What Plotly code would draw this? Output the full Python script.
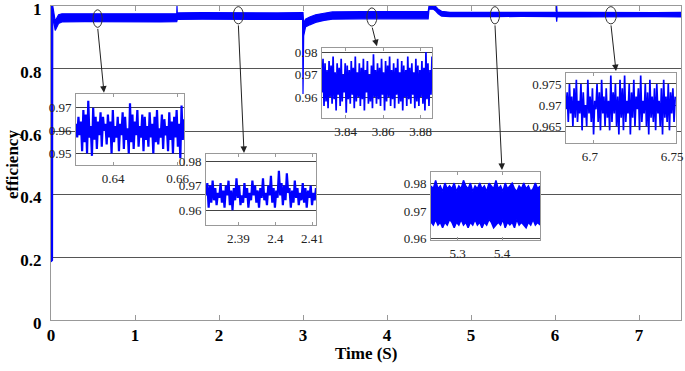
import plotly.graph_objects as go

# ---------------- data ----------------
# main efficiency trace (noisy band drawn as lower / upper envelope)
main_t = [0.000, 0.001, 0.018, 0.021, 0.050, 0.090, 0.130, 0.400, 0.700, 1.000, 1.300, 1.497,
          1.500, 1.503, 1.800, 2.100, 2.400, 2.700, 2.995, 3.000, 3.008, 3.030, 3.080, 3.150,
          3.250, 3.350, 3.700, 4.000, 4.300, 4.490, 4.500, 4.550, 4.580, 4.610, 4.650, 4.750,
          5.000, 5.300, 5.600, 5.950, 6.015, 6.020, 6.025, 6.300, 6.600, 6.900, 7.200, 7.500]
main_lo = [0.185, 0.185, 0.190, 0.970, 0.922, 0.944, 0.949, 0.950, 0.949, 0.950, 0.949, 0.950,
           0.952, 0.957, 0.958, 0.957, 0.958, 0.957, 0.957, 0.720, 0.905, 0.933, 0.940, 0.948,
           0.954, 0.958, 0.959, 0.958, 0.959, 0.959, 0.990, 0.990, 0.984, 0.975, 0.968, 0.966,
           0.967, 0.966, 0.967, 0.966, 0.966, 0.950, 0.965, 0.965, 0.966, 0.965, 0.966, 0.965]
main_hi = [0.200, 1.000, 1.000, 1.000, 0.952, 0.972, 0.975, 0.975, 0.974, 0.975, 0.974, 0.975,
           1.000, 0.978, 0.979, 0.978, 0.979, 0.978, 0.979, 0.979, 0.945, 0.958, 0.965, 0.972,
           0.977, 0.981, 0.982, 0.981, 0.982, 0.982, 1.000, 1.000, 0.998, 0.990, 0.983, 0.980,
           0.980, 0.980, 0.979, 0.980, 0.980, 1.000, 0.980, 0.980, 0.979, 0.980, 0.979, 0.980]

main_xticks = [0, 1, 2, 3, 4, 5, 6, 7]
main_yticks = [0, 0.2, 0.4, 0.6, 0.8, 1]
main_yticktext = ["0", "0.2", "0.4", "0.6", "0.8", "1"]

# zoom 1 : t = 0.6285 ... 0.662
z1_t = [0.6285, 0.6620]
z1_v = [0.963, 0.957, 0.966, 0.958, 0.964, 0.951, 0.969, 0.955, 0.967, 0.950, 0.973, 0.957, 0.962,
        0.949, 0.970, 0.956, 0.966, 0.952, 0.964, 0.958, 0.968, 0.953, 0.966, 0.960, 0.963, 0.954,
        0.967, 0.957, 0.964, 0.950, 0.969, 0.955, 0.962, 0.957, 0.966, 0.951, 0.963, 0.958, 0.968,
        0.952, 0.966, 0.956, 0.961, 0.950, 0.972, 0.955, 0.967, 0.952, 0.964, 0.958, 0.969, 0.953,
        0.962, 0.957, 0.967, 0.951, 0.966, 0.956, 0.962, 0.953, 0.968, 0.957, 0.963, 0.950, 0.966,
        0.955, 0.969, 0.954, 0.961, 0.957, 0.967, 0.952, 0.965, 0.958, 0.962, 0.951, 0.968, 0.956,
        0.964, 0.950, 0.966, 0.957, 0.969, 0.953, 0.963, 0.948, 0.971, 0.956, 0.965]

# zoom 2 : t = 2.381 ... 2.411
z2_t = [2.3812, 2.4110]
z2_v = [0.966, 0.971, 0.961, 0.970, 0.963, 0.972, 0.964, 0.969, 0.962, 0.967, 0.965, 0.971, 0.963,
        0.968, 0.961, 0.970, 0.966, 0.972, 0.962, 0.968, 0.960, 0.969, 0.964, 0.973, 0.965, 0.970,
        0.962, 0.966, 0.963, 0.971, 0.965, 0.969, 0.961, 0.967, 0.964, 0.972, 0.966, 0.970, 0.963,
        0.968, 0.961, 0.969, 0.965, 0.973, 0.964, 0.967, 0.962, 0.970, 0.966, 0.974, 0.963, 0.969,
        0.961, 0.968, 0.965, 0.976, 0.966, 0.971, 0.962, 0.970, 0.964, 0.975, 0.967, 0.969, 0.961,
        0.968, 0.963, 0.972, 0.965, 0.969, 0.962, 0.967, 0.964, 0.971, 0.963, 0.969, 0.961, 0.968,
        0.965, 0.970, 0.962, 0.967, 0.964, 0.969]

# zoom 3 : t = 3.827 ... 3.886
z3_t = [3.8275, 3.8860]
z3_v = [0.962, 0.977, 0.956, 0.975, 0.958, 0.972, 0.955, 0.976, 0.960, 0.974, 0.957, 0.978, 0.959,
        0.971, 0.954, 0.975, 0.961, 0.973, 0.956, 0.977, 0.958, 0.970, 0.962, 0.975, 0.953, 0.974,
        0.959, 0.972, 0.957, 0.976, 0.961, 0.973, 0.955, 0.978, 0.958, 0.971, 0.960, 0.975, 0.956,
        0.973, 0.959, 0.977, 0.954, 0.972, 0.962, 0.976, 0.957, 0.970, 0.958, 0.974, 0.955, 0.979,
        0.960, 0.972, 0.957, 0.975, 0.959, 0.973, 0.956, 0.977, 0.961, 0.971, 0.954, 0.976, 0.958,
        0.974, 0.960, 0.978, 0.956, 0.972, 0.959, 0.975, 0.955, 0.973, 0.961, 0.977, 0.957, 0.971,
        0.958, 0.976, 0.954, 0.974, 0.960, 0.972, 0.956, 0.978, 0.959, 0.973, 0.957, 0.975, 0.961,
        0.971, 0.955, 0.977, 0.958, 0.974, 0.956, 0.972, 0.960, 0.976, 0.957, 0.973, 0.954, 0.980,
        0.959, 0.975, 0.956, 0.972, 0.961, 0.978]

# zoom 4 : t = 5.24 ... 5.485 (dense band: upper / lower envelope)
z4_t = [5.2400, 5.4850]
z4_hi = [0.979, 0.978, 0.981, 0.978, 0.979, 0.977, 0.980, 0.978, 0.979, 0.978, 0.980, 0.977, 0.979,
         0.978, 0.981, 0.979, 0.978, 0.980, 0.977, 0.979, 0.978, 0.980, 0.978, 0.979, 0.977, 0.980,
         0.979, 0.978, 0.981, 0.978, 0.979, 0.977, 0.980, 0.978, 0.979, 0.980, 0.978, 0.977, 0.979,
         0.978, 0.980, 0.978, 0.979, 0.977, 0.978, 0.980, 0.978, 0.979]
z4_lo = [0.966, 0.965, 0.967, 0.965, 0.966, 0.964, 0.966, 0.965, 0.967, 0.966, 0.964, 0.966, 0.965,
         0.967, 0.965, 0.966, 0.964, 0.966, 0.965, 0.967, 0.965, 0.966, 0.964, 0.966, 0.965, 0.967,
         0.966, 0.964, 0.965, 0.966, 0.965, 0.967, 0.964, 0.966, 0.965, 0.966, 0.964, 0.967, 0.965,
         0.966, 0.965, 0.964, 0.966, 0.965, 0.967, 0.965, 0.966, 0.965]

# zoom 5 : t = 6.683 ... 6.75
z5_t = [6.6830, 6.7495]
z5_v = [0.969, 0.973, 0.966, 0.975, 0.968, 0.972, 0.965, 0.974, 0.967, 0.976, 0.966, 0.971, 0.968,
        0.975, 0.964, 0.973, 0.967, 0.970, 0.965, 0.976, 0.968, 0.972, 0.966, 0.974, 0.963, 0.971,
        0.969, 0.975, 0.966, 0.973, 0.964, 0.976, 0.968, 0.972, 0.965, 0.974, 0.967, 0.971, 0.964,
        0.977, 0.966, 0.973, 0.968, 0.975, 0.965, 0.972, 0.963, 0.976, 0.967, 0.974, 0.964, 0.977,
        0.966, 0.971, 0.968, 0.975, 0.963, 0.973, 0.967, 0.976, 0.965, 0.972, 0.969, 0.974, 0.964,
        0.977, 0.966, 0.971, 0.968, 0.975, 0.965, 0.973, 0.963, 0.976, 0.967, 0.972, 0.966, 0.974,
        0.964, 0.975, 0.968, 0.971, 0.965, 0.974, 0.963, 0.976, 0.967, 0.972, 0.966, 0.975, 0.964,
        0.973, 0.968, 0.974, 0.966, 0.972]

# ---------------- layout helpers ----------------
W, H = 685, 371
ML, MR, MT, MB = 51, 4, 6, 51
PW, PH = W - ML - MR, H - MT - MB
BLUE = "#0000ff"
SERIF = "Liberation Serif"


def dom_x(p0, p1):
    return [(p0 - ML) / PW, (p1 - ML) / PW]


def dom_y(top, bot):
    return [(H - MB - bot) / PH, (H - MB - top) / PH]


def grid_x(tr, n):
    return dict(x0=tr[0], dx=(tr[1] - tr[0]) / (n - 1))


fig = go.Figure()

# main band
fig.add_trace(go.Scatter(x=main_t, y=main_lo, mode="lines", line=dict(color=BLUE, width=1.2),
                         xaxis="x", yaxis="y", hoverinfo="skip", showlegend=False))
fig.add_trace(go.Scatter(x=main_t, y=main_hi, mode="lines", line=dict(color=BLUE, width=1.2),
                         fill="tonexty", fillcolor=BLUE,
                         xaxis="x", yaxis="y", hoverinfo="skip", showlegend=False))

# insets
fig.add_trace(go.Scatter(y=z1_v, **grid_x(z1_t, len(z1_v)), mode="lines",
                         line=dict(color=BLUE, width=2.2), xaxis="x2", yaxis="y2", showlegend=False))
fig.add_trace(go.Scatter(y=z2_v, **grid_x(z2_t, len(z2_v)), mode="lines",
                         line=dict(color=BLUE, width=2.2), xaxis="x3", yaxis="y3", showlegend=False))
fig.add_trace(go.Scatter(y=z3_v, **grid_x(z3_t, len(z3_v)), mode="lines",
                         line=dict(color=BLUE, width=1.7), xaxis="x4", yaxis="y4", showlegend=False))
fig.add_trace(go.Scatter(y=z4_lo, **grid_x(z4_t, len(z4_lo)), mode="lines",
                         line=dict(color=BLUE, width=1.5), xaxis="x5", yaxis="y5", showlegend=False))
fig.add_trace(go.Scatter(y=z4_hi, **grid_x(z4_t, len(z4_hi)), mode="lines", fill="tonexty",
                         fillcolor=BLUE, line=dict(color=BLUE, width=1.5),
                         xaxis="x5", yaxis="y5", showlegend=False))
fig.add_trace(go.Scatter(y=z5_v, **grid_x(z5_t, len(z5_v)), mode="lines",
                         line=dict(color=BLUE, width=1.7), xaxis="x6", yaxis="y6", showlegend=False))

bold = dict(family=SERIF, size=17, color="black", weight="bold")
small = dict(family=SERIF, size=13, color="#222")

layout = dict(
    width=W, height=H,
    margin=dict(l=ML, r=MR, t=MT, b=MB, pad=0, autoexpand=False),
    paper_bgcolor="white", plot_bgcolor="white",
    showlegend=False,
    xaxis=dict(domain=[0, 1], range=[0, 7.5], tickvals=main_xticks, ticks="inside", ticklen=5,
               tickcolor="#999", showline=True, linecolor="#999", mirror="ticks",
               showgrid=False, zeroline=False, tickfont=bold, automargin=False,
               ticklabeloverflow="allow"),
    yaxis=dict(domain=[0, 1], range=[0, 1], tickvals=main_yticks, ticktext=main_yticktext,
               ticks="", showline=True, linecolor="#999", mirror=True, showgrid=True,
               gridcolor="#555", gridwidth=1, zeroline=False, tickfont=bold, automargin=False,
               ticklabelstandoff=5, ticklabelshift=3, ticklabeloverflow="allow"),
)

insets = [
    # (x pixel span, y pixel span (top,bottom), x range, y range, xticks, xtext, yticks, ytext)
    ((76, 184), (94, 165), [0.6285, 0.6620], [0.945, 0.976], [0.64, 0.66], ["0.64", "0.66"],
     [0.95, 0.96, 0.97], ["0.95", "0.96", "0.97"]),
    ((206, 316), (154, 225), [2.3812, 2.4110], [0.9539, 0.9829], [2.39, 2.40, 2.41],
     ["2.39", "2.4", "2.41"], [0.96, 0.97, 0.98], ["0.96", "0.97", "0.98"]),
    ((322, 432), (48, 118), [3.8275, 3.8860], [0.9507, 0.9818], [3.84, 3.86, 3.88],
     ["3.84", "3.86", "3.88"], [0.96, 0.97, 0.98], ["0.96", "0.97", "0.98"]),
    ((431, 540), (172, 240), [5.2400, 5.4850], [0.9596, 0.9840], [5.3, 5.4],
     ["5.3", "5.4"], [0.96, 0.97, 0.98], ["0.96", "0.97", "0.98"]),
    ((566, 676), (73, 143), [6.6830, 6.7500], [0.9610, 0.9776], [6.7, 6.75],
     ["6.7", "6.75"], [0.965, 0.97, 0.975], ["0.965", "0.97", "0.975"]),
]

for i, (xs, ys, xr, yr, xt, xtt, yt, ytt) in enumerate(insets):
    k = i + 2
    layout[f"xaxis{k}"] = dict(domain=dom_x(*xs), range=xr, anchor=f"y{k}", tickvals=xt,
                               ticktext=xtt, ticks="inside", ticklen=3, tickcolor="#999",
                               showline=True, linecolor="#999", mirror="ticks", showgrid=False,
                               zeroline=False, tickfont=small, ticklabelstandoff=1,
                               ticklabelshift=(-4 if k == 6 else 0),
                               automargin=False, ticklabeloverflow="allow")
    layout[f"yaxis{k}"] = dict(domain=dom_y(*ys), range=yr, anchor=f"x{k}", tickvals=yt,
                               ticktext=ytt, ticks="", showline=True, linecolor="#999",
                               mirror=True, showgrid=True, gridcolor="#444", gridwidth=1,
                               zeroline=False, tickfont=small, ticklabelstandoff=1,
                               automargin=False, ticklabeloverflow="allow")

fig.update_layout(**layout)

# axis titles
fig.add_annotation(text="Time (S)", xref="paper", yref="paper", x=(366 - ML) / PW,
                   y=-(353 - (H - MB)) / PH, xanchor="center", yanchor="middle",
                   showarrow=False, font=bold)
fig.add_annotation(text="efficiency", xref="paper", yref="paper", x=(12 - ML) / PW,
                   y=((H - MB) - 165) / PH, xanchor="center", yanchor="middle", textangle=-90,
                   showarrow=False, font=bold)

# ellipses marking zoomed regions and arrows to the insets
ellipses = [(0.50, 0.61, 0.932, 0.988), (2.17, 2.29, 0.943, 0.998), (3.76, 3.88, 0.936, 0.994),
            (5.23, 5.34, 0.943, 0.998), (6.60, 6.73, 0.943, 0.998)]
arrows = [((0.555, 0.932), (0.631, 0.724)), ((2.23, 0.943), (2.298, 0.532)),
          ((3.82, 0.936), (3.880, 0.872)), ((5.285, 0.943), (5.369, 0.478)),
          ((6.665, 0.943), (6.726, 0.793))]
for (x0, x1, y0, y1) in ellipses:
    fig.add_shape(type="circle", xref="x", yref="y", x0=x0, x1=x1, y0=y0, y1=y1,
                  line=dict(color="#333", width=1), layer="above")
for (tail, head) in arrows:
    fig.add_annotation(x=head[0], y=head[1], ax=tail[0], ay=tail[1], xref="x", yref="y",
                       axref="x", ayref="y", text="", showarrow=True, arrowhead=2,
                       arrowsize=1.3, arrowwidth=1, arrowcolor="#222", standoff=0)

fig.write_html("out.html", config={"displayModeBar": False},
               post_script="document.body.style.margin='0';document.body.style.overflow='hidden';")
